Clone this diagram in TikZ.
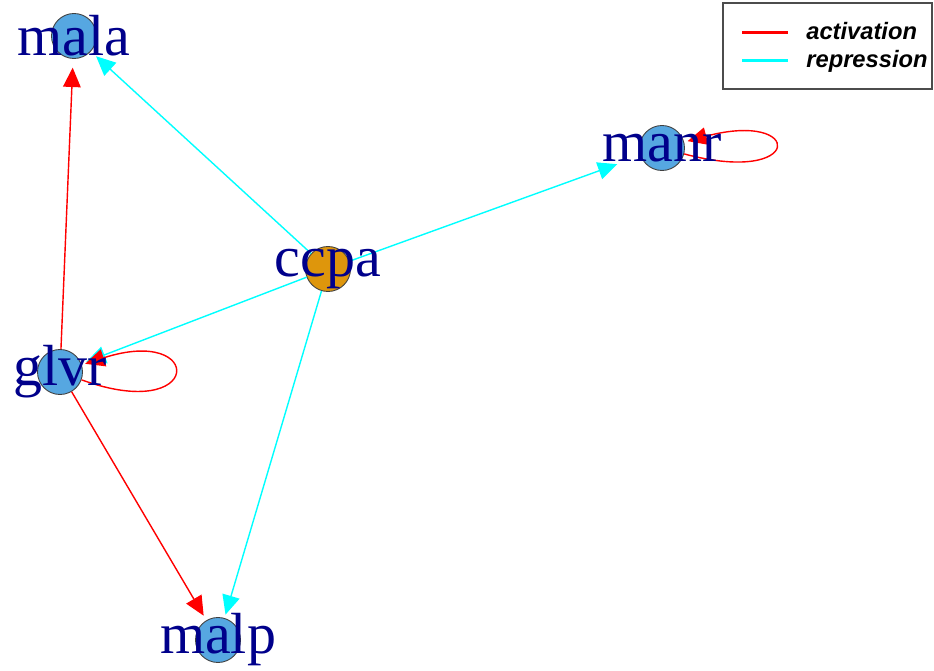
\documentclass[tikz,border=0pt]{standalone}
\usepackage{fontspec}
\setmainfont{Liberation Serif}
\newfontfamily\legendfont{Liberation Sans}
\usetikzlibrary{arrows.meta}
\definecolor{labelblue}{RGB}{0,0,139}
\definecolor{genefill}{RGB}{86,167,225}
\definecolor{hubfill}{RGB}{222,150,12}
\definecolor{actred}{RGB}{255,0,0}
\definecolor{repcyan}{RGB}{0,255,255}

\begin{document}
\begin{tikzpicture}[
  x=0.02cm, y=-0.02cm,
  gene/.style={circle, draw=black!75, line width=0.5pt, fill=genefill, minimum size=0.9cm, inner sep=0pt},
  lbl/.style={font=\fontsize{33}{33}\selectfont, text=labelblue, inner sep=0pt},
  act/.style={-{Triangle[length=11pt, width=10pt]}, actred, line width=0.8pt, shorten >=3pt},
  rep/.style={-{Triangle[length=11pt, width=10pt]}, repcyan, line width=0.8pt, shorten >=3pt},
  legtext/.style={font=\legendfont\fontsize{13.5}{13.5}\bfseries\itshape, anchor=base west, inner sep=0pt}
]
\useasboundingbox (0,0) rectangle (934,671);

\node[gene] (mala) at (74,36) {};
\node[gene] (manr) at (662,148) {};
\node[gene, fill=hubfill] (ccpa) at (328,269) {};
\node[gene] (glvr) at (60,372) {};
\node[gene] (malp) at (218,640) {};

\draw[act, shorten >=5pt] (glvr) -- (mala);
\draw[rep, shorten >=4pt] (ccpa) -- (mala);
\draw[rep, shorten >=14pt] (ccpa) -- (manr);
\draw[rep] (ccpa) -- (glvr);
\draw[rep, shorten >=2pt] (ccpa) -- (malp);
\draw[act] (glvr) -- (malp);

% self loops
\draw[act, shorten >=2pt] (glvr) to[out=-20, in=18, distance=2.6cm] (glvr);
\draw[act, shorten >=2pt] (manr) to[out=-15, in=15, distance=2.5cm] (manr);

\node[lbl] (mala-t) at (mala) {mala};
\node[lbl] (manr-t) at (manr) {manr};
\node[lbl] (ccpa-t) at (ccpa) {ccpa};
\node[lbl] (glvr-t) at (glvr) {glvr};
\node[lbl] (malp-t) at (malp) {malp};

% legend
\draw[black!70, line width=1pt] (723,3) rectangle (932,89);
\draw[actred, line width=1.7pt] (742,33) -- (788,33);
\draw[repcyan, line width=1.7pt] (742,61) -- (788,61);
\node[legtext] (act-t) at (806,40) {activation};
\node[legtext] (rep-t) at (806,68) {repression};

\end{tikzpicture}
\end{document}
